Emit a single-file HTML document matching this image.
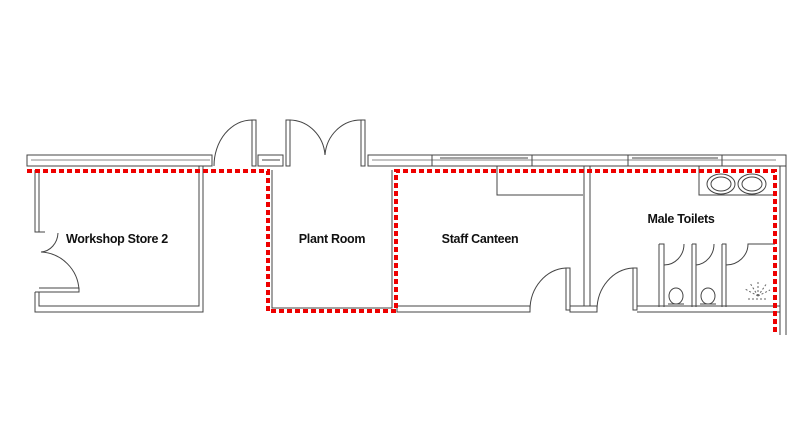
<!DOCTYPE html>
<html><head><meta charset="utf-8"><style>
html,body{margin:0;padding:0;background:#fff;width:800px;height:445px;overflow:hidden}
svg{display:block}
text{font-family:"Liberation Sans",Arial,sans-serif;font-weight:bold;font-size:12.5px;fill:#111;letter-spacing:-0.3px}
</style></head><body>
<svg width="800" height="445" viewBox="0 0 800 445" fill="none" stroke="#444" stroke-width="1">
<!-- top wall left -->
<rect x="27" y="155" width="185" height="11"/>
<line x1="31" y1="160" x2="210" y2="160" stroke="#888"/>
<!-- door between -->
<rect x="252" y="120" width="4" height="46"/>
<path d="M214 166 A38 46 0 0 1 252 120"/>
<rect x="258" y="155" width="25" height="11"/>
<line x1="262" y1="160" x2="280" y2="160"/>
<!-- plant double doors -->
<rect x="286" y="120" width="4" height="46"/>
<rect x="361" y="120" width="4" height="46"/>
<path d="M290 120 A36 38 0 0 1 325 155"/>
<path d="M361 120 A36 38 0 0 0 325 155"/>
<!-- top wall right -->
<rect x="368" y="155" width="418" height="11"/>
<line x1="372" y1="160" x2="776" y2="160" stroke="#888"/>
<line x1="432" y1="155" x2="432" y2="166"/><line x1="532" y1="155" x2="532" y2="166"/>
<line x1="628" y1="155" x2="628" y2="166"/><line x1="722" y1="155" x2="722" y2="166"/>
<line x1="440" y1="158" x2="528" y2="158"/><line x1="632" y1="158" x2="718" y2="158"/>
<!-- workshop store -->
<path d="M35 170 V232 H45 M39 170 V232"/>
<path d="M35 292 V312 H203 V166 M39 292 V306 H199 V166"/>
<path d="M35 292 H79 V288 H39"/>
<path d="M79 290 A40 40 0 0 0 41 252"/>
<path d="M41 252 A18 20 0 0 0 58 233"/>
<!-- plant room walls -->
<path d="M272 170 V308 H392 V170"/>
<!-- canteen -->
<path d="M497 166 V195 H583"/>
<path d="M397 306 H530 V312 H397 Z"/>
<rect x="566" y="268" width="4" height="42"/>
<path d="M530 310 A38 42 0 0 1 566 268"/>
<path d="M570 306 H597 V312 H570 Z"/>
<path d="M584 166 V306 M590 166 V306"/>
<!-- toilets -->
<rect x="633" y="268" width="4" height="42"/>
<path d="M597 310 A38 42 0 0 1 633 268"/>
<path d="M637 306 H780 V312 H637"/>
<path d="M659 244 H664 V307 M659 244 V307"/>
<path d="M692 244 H696 V307 M692 244 V307"/>
<path d="M722 244 H726 V307 M722 244 V307"/>
<path d="M664 265 A20 21 0 0 0 684 244"/>
<path d="M696 265 A20 21 0 0 0 714 244"/>
<path d="M726 265 A22 21 0 0 0 748 244 H775"/>
<ellipse cx="676" cy="296" rx="7" ry="8"/><path d="M668 304 H684"/>
<ellipse cx="708" cy="296" rx="7" ry="8"/><path d="M700 304 H716"/>
<path d="M758 296 L745 289 M758 296 L750 283 M758 296 L758 281 M758 296 L767 283 M758 296 L770 290 M748 299 H768" stroke="#666" stroke-dasharray="2 2"/>
<path d="M699 166 V195 H773"/>
<ellipse cx="721" cy="184" rx="14" ry="10"/><ellipse cx="721" cy="184" rx="10" ry="7"/>
<ellipse cx="752" cy="184" rx="14" ry="10"/><ellipse cx="752" cy="184" rx="10" ry="7"/>
<path d="M780 166 V335 M786 166 V335"/>
<!-- red boundary -->
<path d="M27 171 H268 V311 H396 V171 H775 V335" stroke="#e00" stroke-width="4" stroke-dasharray="5 3"/>
<text x="117" y="243" text-anchor="middle" stroke="none">Workshop Store 2</text>
<text x="332" y="243" text-anchor="middle" stroke="none">Plant Room</text>
<text x="480" y="243" text-anchor="middle" stroke="none">Staff Canteen</text>
<text x="681" y="223" text-anchor="middle" stroke="none">Male Toilets</text>
</svg>
</body></html>
